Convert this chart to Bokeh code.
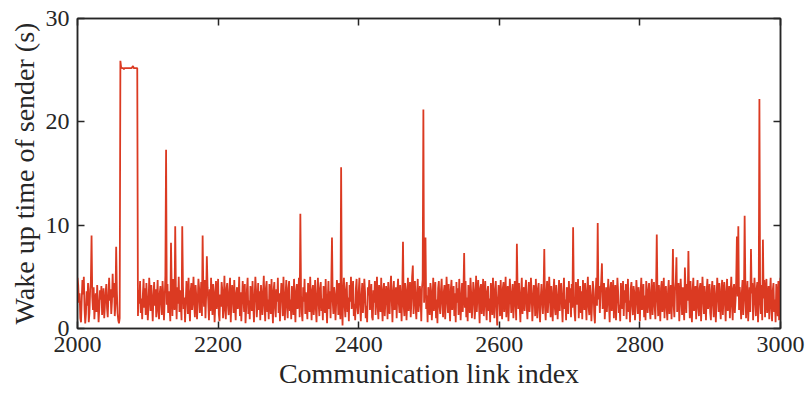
from bokeh.plotting import figure
from bokeh.models import Range1d, LinearAxis, FixedTicker
from bokeh.embed import file_html
from bokeh.resources import INLINE
import numpy as np

# Wake-up time of the sender (s) for communication links 2000..3000
first_link = 2000

wake_2000s = [
    4.9, 4.2, 2.5, 3.4, 1.0, 0.6, 2.8, 4.7, 3.3, 5.0, 1.9, 0.5, 1.4, 3.6, 2.2, 4.4, 0.6, 1.5, 3.8, 4.5,
    9.0, 3.1, 1.8, 4.0, 0.9, 2.3, 3.4, 1.6, 4.2, 2.5, 0.6, 1.9, 3.7, 2.8, 4.1, 1.3, 2.6, 3.9, 1.0, 2.2,
    3.5, 4.3, 2.0, 1.1, 3.2, 4.9, 2.7, 3.8, 1.4, 2.6, 5.3, 3.0, 4.4, 1.2, 2.4, 7.9, 3.6, 1.5, 0.8, 0.5,
    1.0, 25.9, 25.3, 25.2, 25.2, 25.2, 25.1, 25.2, 25.2, 25.2, 25.2, 25.2, 25.2, 25.2, 25.2, 25.2, 25.2, 25.2, 25.3, 25.4,
    25.2, 25.2, 25.2, 25.2, 25.2, 25.2, 1.2, 3.7, 2.4, 4.6, 1.5, 2.9, 0.9, 3.3, 4.8, 2.0, 3.9, 1.3, 4.4, 2.7,
    0.8, 2.1, 4.9, 3.5, 1.7, 4.2, 2.6, 0.7, 3.0, 4.5, 2.2, 3.8, 1.1, 2.9, 4.7, 1.6, 0.9, 3.4, 4.1, 2.5,
    1.3, 4.6, 3.2, 0.8, 2.7, 5.1, 17.3, 2.3, 4.3, 1.5, 3.6, 2.1, 0.7, 8.3, 3.9, 1.2, 4.8, 2.6, 1.8, 9.9,
    3.3, 0.9, 4.0, 2.4, 5.0, 1.6, 3.7, 2.2, 0.8, 9.9, 4.1, 1.9, 3.0, 0.6, 2.5, 4.6, 3.4, 1.4, 4.9, 2.1,
    0.7, 3.6, 4.4, 1.8, 3.0, 5.0, 2.3, 1.1, 4.2, 3.1, 0.9, 2.6, 4.8, 3.9, 1.5, 2.8, 4.5, 1.2, 9.0, 3.5,
    2.1, 4.7, 1.0, 3.2, 7.0, 4.0, 2.6, 0.8, 3.8, 1.7, 4.9, 2.9, 1.3, 4.3, 3.5, 0.6, 2.4, 4.6, 1.9, 3.1,
]

wake_2200s = [
    4.8, 1.4, 0.7, 3.3, 2.1, 4.5, 3.7, 1.0, 2.5, 5.1, 1.8, 0.9, 3.9, 4.4, 2.2, 1.3, 3.6, 4.9, 0.6, 2.7,
    4.2, 3.0, 1.5, 4.7, 2.3, 0.8, 3.4, 4.0, 1.9, 2.8, 5.0, 1.2, 3.5, 0.7, 2.6, 4.6, 3.2, 1.6, 4.3, 0.5,
    2.0, 3.8, 4.9, 1.4, 2.7, 0.9, 4.1, 3.3, 1.7, 4.6, 2.4, 0.6, 3.0, 5.0, 3.7, 1.1, 2.5, 4.4, 1.8, 3.6,
    0.8, 4.2, 2.9, 1.3, 3.5, 5.1, 2.2, 0.7, 3.9, 4.6, 1.6, 2.8, 0.9, 4.3, 3.1, 1.4, 4.8, 2.3, 0.5, 3.7,
    4.5, 2.0, 1.1, 3.8, 2.6, 4.9, 1.5, 3.4, 0.7, 2.9, 4.4, 3.6, 1.2, 5.0, 2.4, 0.8, 3.3, 4.7, 2.1, 1.0,
    3.9, 4.6, 1.7, 2.8, 0.9, 4.1, 3.0, 1.3, 4.8, 2.5, 0.6, 3.6, 4.3, 1.9, 2.7, 4.9, 1.1, 11.1, 3.2, 1.5,
    0.7, 4.0, 2.6, 4.8, 1.4, 3.5, 2.2, 0.9, 4.4, 3.1, 1.6, 5.0, 2.8, 0.8, 3.7, 4.2, 1.3, 2.4, 4.7, 2.0,
    0.6, 3.3, 4.9, 2.5, 1.2, 3.9, 4.5, 1.7, 2.9, 0.8, 4.1, 3.4, 1.5, 4.8, 2.3, 0.5, 3.0, 4.6, 1.9, 3.6,
    1.0, 4.3, 8.8, 2.7, 1.4, 4.0, 3.2, 0.8, 2.5, 4.7, 3.6, 1.3, 4.4, 2.1, 0.9, 15.6, 2.8, 0.3, 3.5, 4.9,
    2.2, 1.1, 3.8, 4.5, 1.6, 3.0, 0.7, 4.2, 2.6, 5.0, 1.9, 3.3, 4.6, 1.2, 2.4, 0.8, 3.9, 4.8, 2.0, 1.4,
]

wake_2400s = [
    3.5, 4.9, 2.3, 0.7, 3.1, 4.4, 1.5, 2.7, 4.8, 3.6, 1.0, 2.2, 0.6, 4.0, 3.2, 4.7, 1.8, 2.9, 4.3, 1.1,
    0.8, 3.7, 2.5, 4.6, 1.3, 3.4, 5.0, 2.0, 0.9, 4.2, 3.0, 1.6, 4.9, 2.4, 0.7, 3.8, 4.4, 1.2, 2.6, 4.1,
    3.3, 0.9, 4.5, 2.1, 1.4, 3.9, 5.1, 2.8, 0.6, 3.5, 4.6, 1.8, 2.3, 4.0, 1.0, 3.6, 4.8, 2.5, 1.5, 4.2,
    2.9, 0.7, 3.4, 8.4, 2.2, 1.2, 4.4, 3.7, 0.8, 2.6, 4.9, 1.7, 3.1, 4.5, 1.1, 2.7, 5.0, 6.1, 1.4, 3.8,
    4.6, 2.0, 0.9, 3.5, 4.8, 1.6, 2.4, 4.1, 3.0, 0.7, 3.9, 4.7, 21.2, 2.5, 4.3, 8.8, 1.9, 3.2, 0.6, 4.0,
    2.7, 1.3, 4.4, 3.6, 0.8, 2.3, 4.9, 1.7, 3.3, 4.5, 1.0, 2.8, 0.5, 3.9, 4.6, 2.1, 1.4, 3.7, 4.8, 2.4,
    1.1, 3.5, 4.2, 0.9, 2.6, 5.0, 3.1, 1.5, 4.3, 2.2, 0.7, 3.8, 4.7, 1.8, 2.9, 4.1, 1.2, 3.4, 0.6, 4.5,
    2.5, 3.9, 1.3, 4.8, 3.2, 0.8, 2.7, 4.4, 1.6, 3.6, 7.3, 2.0, 4.6, 1.1, 3.0, 0.7, 4.2, 2.8, 1.5, 4.9,
    3.4, 1.0, 2.4, 4.5, 3.7, 0.9, 2.1, 5.1, 1.6, 3.3, 4.7, 2.6, 0.5, 3.9, 4.3, 1.4, 2.8, 4.8, 1.2, 3.0,
    4.6, 2.2, 0.8, 3.6, 4.1, 1.7, 2.9, 0.6, 4.4, 3.2, 1.3, 4.9, 2.5, 1.0, 3.8, 4.6, 2.0, 0.3, 2.7, 4.2,
]

wake_2600s = [
    3.5, 1.2, 4.7, 2.3, 0.9, 3.9, 4.5, 1.6, 2.8, 5.0, 1.1, 3.3, 4.1, 0.7, 2.6, 4.8, 3.4, 1.5, 3.0, 4.3,
    1.0, 2.4, 4.6, 3.1, 0.8, 8.2, 3.7, 1.9, 4.4, 2.2, 0.6, 3.5, 4.9, 1.4, 2.9, 4.0, 1.7, 3.8, 4.7, 2.1,
    0.9, 3.2, 4.5, 1.6, 2.7, 4.9, 3.4, 0.7, 2.3, 4.2, 3.6, 1.2, 4.8, 2.5, 1.0, 3.9, 4.4, 1.8, 0.6, 3.1,
    4.3, 2.6, 1.4, 3.7, 7.7, 2.1, 0.8, 3.4, 4.6, 1.5, 2.9, 5.0, 3.2, 1.1, 4.1, 2.4, 0.7, 3.6, 4.8, 2.0,
    1.3, 4.2, 3.0, 0.9, 2.6, 4.7, 1.7, 3.8, 4.4, 2.2, 0.6, 3.3, 4.9, 1.9, 2.8, 0.8, 4.0, 3.5, 1.4, 4.6,
    2.5, 3.9, 1.1, 4.3, 2.0, 9.8, 3.1, 1.6, 0.7, 4.5, 3.4, 2.3, 4.8, 1.0, 2.9, 4.1, 1.5, 3.6, 0.9, 4.7,
    3.2, 1.8, 4.4, 2.6, 0.8, 3.7, 5.0, 2.1, 1.3, 4.2, 3.0, 0.7, 2.5, 4.6, 3.8, 1.4, 0.5, 3.3, 4.9, 2.2,
    10.2, 2.8, 4.1, 1.5, 3.5, 4.6, 6.3, 1.9, 3.2, 4.4, 0.9, 2.4, 4.0, 1.6, 3.1, 4.8, 2.3, 0.6, 3.9, 4.5,
    1.7, 2.9, 4.7, 1.0, 3.4, 4.2, 0.8, 2.6, 4.9, 3.6, 1.5, 2.3, 0.7, 4.4, 3.0, 1.9, 4.6, 1.2, 3.7, 2.5,
    4.3, 0.9, 3.1, 4.8, 1.6, 2.7, 0.6, 3.9, 4.5, 2.2, 1.3, 4.1, 3.5, 0.8, 2.4, 4.7, 3.3, 1.4, 4.0, 2.8,
]

wake_2800s = [
    0.7, 3.6, 4.9, 1.8, 2.5, 4.3, 1.1, 3.2, 0.8, 4.6, 3.8, 1.5, 2.9, 4.4, 2.0, 0.9, 3.7, 4.8, 1.3, 3.1,
    4.5, 2.2, 0.9, 3.5, 9.1, 3.0, 1.2, 4.2, 2.6, 0.7, 3.9, 4.6, 1.6, 2.8, 4.9, 1.0, 3.3, 4.1, 2.0, 0.8,
    3.6, 4.7, 1.4, 2.9, 4.2, 0.9, 3.4, 7.7, 2.3, 1.1, 3.8, 4.5, 6.9, 1.6, 3.0, 4.4, 0.7, 2.6, 4.8, 3.2,
    1.3, 4.0, 2.4, 0.8, 5.9, 3.5, 1.5, 4.3, 2.7, 7.5, 3.1, 1.0, 4.6, 2.2, 0.6, 3.8, 4.9, 1.7, 2.8, 4.1,
    0.9, 3.4, 4.7, 2.0, 1.2, 3.9, 4.4, 0.7, 2.6, 5.0, 3.3, 1.4, 4.1, 2.5, 0.8, 3.6, 4.8, 1.9, 3.0, 4.3,
    1.5, 0.8, 3.7, 4.6, 2.3, 1.1, 4.2, 3.0, 0.6, 2.8, 4.9, 3.5, 1.6, 4.4, 2.1, 0.9, 3.8, 4.7, 1.3, 3.2,
    4.5, 2.4, 0.7, 3.6, 4.8, 1.7, 2.9, 4.1, 1.0, 3.4, 5.0, 2.2, 0.8, 3.9, 4.3, 1.5, 2.7, 4.6, 8.9, 3.1,
    9.9, 1.8, 4.0, 2.6, 0.9, 3.5, 4.7, 1.3, 2.8, 10.9, 4.2, 1.0, 3.3, 4.6, 0.7, 2.5, 4.0, 1.6, 7.7, 3.4,
    4.4, 0.8, 2.7, 4.9, 3.1, 1.2, 3.8, 4.5, 0.6, 2.3, 22.2, 3.6, 1.4, 4.2, 0.8, 8.6, 2.9, 4.7, 1.1, 3.5,
    4.8, 1.5, 2.6, 4.1, 0.9, 3.2, 4.9, 2.0, 0.7, 3.7, 4.4, 1.6, 2.8, 0.6, 4.3, 3.0, 1.2, 4.6, 0.8, 3.9,
    4.9,
]

x_ticks = [2000, 2200, 2400, 2600, 2800, 3000]
y_ticks = [0, 10, 20, 30]

wake_time = np.array(wake_2000s + wake_2200s + wake_2400s + wake_2600s + wake_2800s)
link_index = np.arange(first_link, first_link + len(wake_time))

SERIF = "Liberation Serif"
INK = "#262626"

p = figure(
    width=807, height=399,
    x_range=Range1d(2000, 3000), y_range=Range1d(0, 30),
    output_backend="svg", toolbar_location=None,
    min_border_left=77, min_border_right=27,
    min_border_top=18, min_border_bottom=71,
    outline_line_color=INK, outline_line_width=1.5,
    background_fill_color="white", border_fill_color="white",
)
p.grid.visible = False

p.line(link_index, wake_time, line_color="#db3a22", line_width=1.8)

p.xaxis.axis_label = "Communication link index"
p.yaxis.axis_label = "Wake up time of sender (s)"
p.xaxis.ticker = FixedTicker(ticks=x_ticks)
p.yaxis.ticker = FixedTicker(ticks=y_ticks)

for ax in (p.xaxis[0], p.yaxis[0]):
    ax.axis_line_color = INK
    ax.axis_line_width = 1.5
    ax.major_tick_line_color = INK
    ax.major_tick_line_width = 1.5
    ax.major_tick_in = 7
    ax.major_tick_out = 0
    ax.minor_tick_line_color = None
    ax.major_label_text_font = SERIF
    ax.major_label_text_font_size = "24px"
    ax.major_label_text_color = INK
    ax.major_label_standoff = 8
    ax.axis_label_text_font = SERIF
    ax.axis_label_text_font_size = "28px"
    ax.axis_label_text_font_style = "normal"
    ax.axis_label_text_color = INK

p.yaxis.axis_label_standoff = 3
p.xaxis.axis_label_standoff = 3

# mirrored tick marks on the top and right edges of the box, without labels
top_axis = LinearAxis(ticker=FixedTicker(ticks=x_ticks))
right_axis = LinearAxis(ticker=FixedTicker(ticks=y_ticks))
for ax in (top_axis, right_axis):
    ax.axis_line_color = INK
    ax.axis_line_width = 1.5
    ax.major_tick_line_color = INK
    ax.major_tick_line_width = 1.5
    ax.major_tick_in = 7
    ax.major_tick_out = 0
    ax.minor_tick_line_color = None
    ax.major_label_text_font_size = "1px"
    ax.major_label_text_color = None
    ax.major_label_standoff = 0
p.add_layout(top_axis, "above")
p.add_layout(right_axis, "right")

open("out.html", "w").write(file_html(p, INLINE))
